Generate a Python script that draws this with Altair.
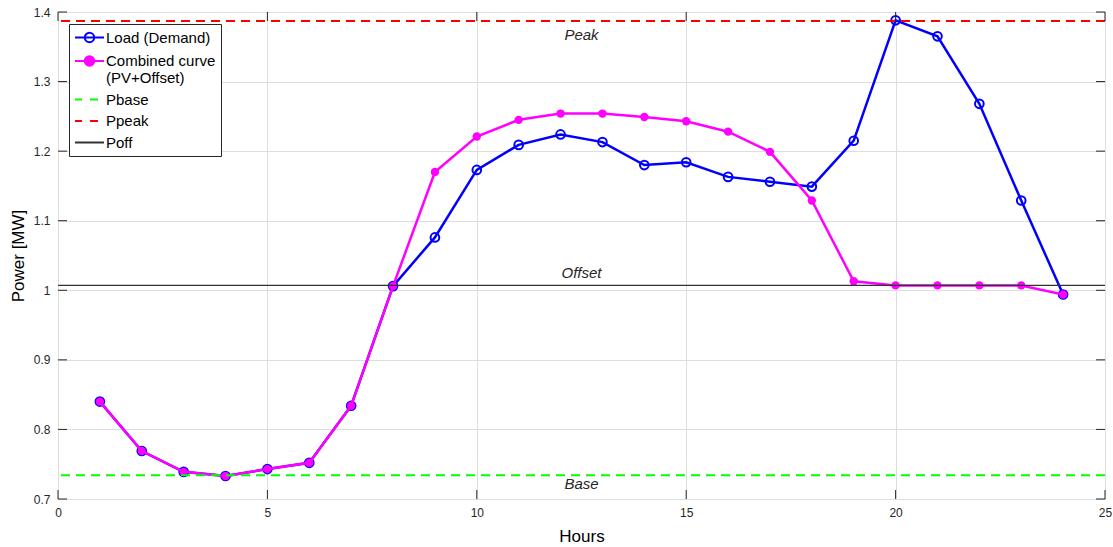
import altair as alt
import pandas as pd

# ---- data ----
hours = list(range(1, 25))
load = [0.840, 0.769, 0.739, 0.733, 0.743, 0.752, 0.834, 1.006, 1.076, 1.173, 1.209, 1.224,
        1.213, 1.180, 1.184, 1.163, 1.156, 1.149, 1.215, 1.388, 1.365, 1.268, 1.129, 0.994]
combined = [0.840, 0.769, 0.739, 0.733, 0.743, 0.752, 0.834, 1.006, 1.170, 1.221, 1.245, 1.254,
            1.254, 1.249, 1.243, 1.228, 1.199, 1.129, 1.013, 1.007, 1.007, 1.007, 1.007, 0.994]
ref_names = ["Pbase", "Ppeak", "Poff"]
ref_values = [0.734, 1.387, 1.007]
ref_labels = ["Base", "Peak", "Offset"]
label_x = [12.5, 12.5, 12.5]
series_names = ["Load (Demand)", "Combined curve (PV+Offset)", "Pbase", "Ppeak", "Poff"]
x_ticks = [0, 5, 10, 15, 20, 25]
y_ticks = [0.7, 0.8, 0.9, 1.0, 1.1, 1.2, 1.3, 1.4]

W, H = 1047, 487
FONT = "Liberation Sans"
TXT = "#262626"

df = pd.DataFrame({"h": hours, "load": load, "combined": combined})
ref = pd.DataFrame({"name": ref_names, "v": ref_values, "label": ref_labels, "x": label_x})
leg = pd.DataFrame({"series": series_names})
xt = pd.DataFrame({"t": x_ticks})
yt = pd.DataFrame({"t": y_ticks})

xs = alt.Scale(domain=[0, 25], nice=False, zero=False)
ys = alt.Scale(domain=[0.7, 1.4], nice=False, zero=False)

xaxis = alt.Axis(values=x_ticks, title="Hours", grid=True, gridColor="#dedede", tickSize=0,
                 domain=False, labelPadding=8, labelFontSize=12, labelColor=TXT, labelFont=FONT,
                 titleFont=FONT, titleFontSize=17, titleFontWeight="normal", titleColor="#000000",
                 titlePadding=10, labelFlush=False)
yaxis = alt.Axis(values=y_ticks, title="Power [MW]", grid=True, gridColor="#dedede", tickSize=0,
                 domain=False, labelPadding=8, labelFontSize=12, labelColor=TXT, labelFont=FONT,
                 format="~g", titleFont=FONT, titleFontSize=17, titleFontWeight="normal",
                 titleColor="#000000", titlePadding=6, labelFlush=False)

base = alt.Chart(df)

load_line = base.mark_line(color="#0000FF", strokeWidth=2.5).encode(
    x=alt.X("h:Q", scale=xs, axis=xaxis),
    y=alt.Y("load:Q", scale=ys, axis=yaxis),
)
load_pts = base.mark_point(shape="circle", filled=False, color="#0000FF", strokeWidth=2, size=75, opacity=1).encode(
    x=alt.X("h:Q", scale=xs), y=alt.Y("load:Q", scale=ys)
)
comb_line = base.mark_line(color="#FF00FF", strokeWidth=2.5).encode(
    x=alt.X("h:Q", scale=xs), y=alt.Y("combined:Q", scale=ys)
)
comb_pts = base.mark_circle(color="#FF00FF", size=70, opacity=1).encode(
    x=alt.X("h:Q", scale=xs), y=alt.Y("combined:Q", scale=ys)
)

pbase = alt.Chart(ref[ref.name == "Pbase"]).mark_rule(color="#00FF00", strokeWidth=2, strokeDash=[9, 6]).encode(
    y=alt.Y("v:Q", scale=ys))
ppeak = alt.Chart(ref[ref.name == "Ppeak"]).mark_rule(color="#FF0000", strokeWidth=2, strokeDash=[9, 6]).encode(
    y=alt.Y("v:Q", scale=ys))
poff = alt.Chart(ref[ref.name == "Poff"]).mark_rule(color="#333333", strokeWidth=1.2).encode(
    y=alt.Y("v:Q", scale=ys))

txt_common = dict(font=FONT, fontSize=15, fontStyle="italic", color=TXT, align="center", baseline="middle")
t_peak = alt.Chart(ref[ref.name == "Ppeak"]).mark_text(dy=14, **txt_common).encode(
    x=alt.X("x:Q", scale=xs), y=alt.Y("v:Q", scale=ys), text="label:N")
t_off = alt.Chart(ref[ref.name == "Poff"]).mark_text(dy=-12, **txt_common).encode(
    x=alt.X("x:Q", scale=xs), y=alt.Y("v:Q", scale=ys), text="label:N")
t_base = alt.Chart(ref[ref.name == "Pbase"]).mark_text(dy=9, **txt_common).encode(
    x=alt.X("x:Q", scale=xs), y=alt.Y("v:Q", scale=ys), text="label:N")

# inward ticks on all four sides
tk = dict(color=TXT, strokeWidth=1)
t_bottom = alt.Chart(xt).mark_rule(**tk).encode(x=alt.X("t:Q", scale=xs), y=alt.value(H), y2=alt.value(H - 9))
t_top = alt.Chart(xt).mark_rule(**tk).encode(x=alt.X("t:Q", scale=xs), y=alt.value(0), y2=alt.value(9))
t_left = alt.Chart(yt).mark_rule(**tk).encode(y=alt.Y("t:Q", scale=ys), x=alt.value(0), x2=alt.value(9))
t_right = alt.Chart(yt).mark_rule(**tk).encode(y=alt.Y("t:Q", scale=ys), x=alt.value(W), x2=alt.value(W - 9))

# legend (dummy layer, clipped out of view); symbol paths in units of half the symbol size
line_circle = "M-1,0L2.867,0M0.306,0A0.627,0.627 0 1,0 1.56,0A0.627,0.627 0 1,0 0.306,0Z"
dashed = "M-1,0L-0.067,0M1,0L2.067,0"
solid = "M-1,0L2.867,0"
legend = alt.Legend(
    title=None, orient="none", legendX=11, legendY=12,
    fillColor="#ffffff", strokeColor="#262626", padding=5,
    labelFont=FONT, labelFontSize=15, labelColor="#000000", labelLimit=400, labelOffset=15,
    symbolSize=225, symbolStrokeWidth=2, rowPadding=4.5,
    labelExpr="indexof(datum.label, '(PV') > 0 ? ['Combined curve', '(PV+Offset)'] : datum.label",
)
leg_layer = alt.Chart(leg).mark_point(filled=True, clip=True, opacity=1).encode(
    x=alt.value(-200), y=alt.value(-200),
    stroke=alt.Stroke("series:N", sort=series_names,
                      scale=alt.Scale(domain=series_names,
                                      range=["#0000FF", "#FF00FF", "#00FF00", "#FF0000", "#333333"]),
                      legend=legend),
    fill=alt.Fill("series:N", sort=series_names,
                  scale=alt.Scale(domain=series_names,
                                  range=["#ffffff", "#FF00FF", "transparent", "transparent", "transparent"]),
                  legend=legend),
    shape=alt.Shape("series:N", sort=series_names,
                    scale=alt.Scale(domain=series_names,
                                    range=[line_circle, line_circle, dashed, dashed, solid]),
                    legend=legend),
)

chart = alt.layer(
    load_line, load_pts, comb_line, comb_pts, pbase, ppeak, poff,
    t_peak, t_off, t_base, t_bottom, t_top, t_left, t_right, leg_layer
).properties(
    width=W, height=H,
    autosize=alt.AutoSizeParams(type="none"),
    padding={"left": 58, "top": 12, "right": 8, "bottom": 48},
).configure_view(
    stroke="#262626", strokeWidth=1
).configure(background="#ffffff")

chart.save("out.html", embed_options={"renderer": "svg", "actions": False})
